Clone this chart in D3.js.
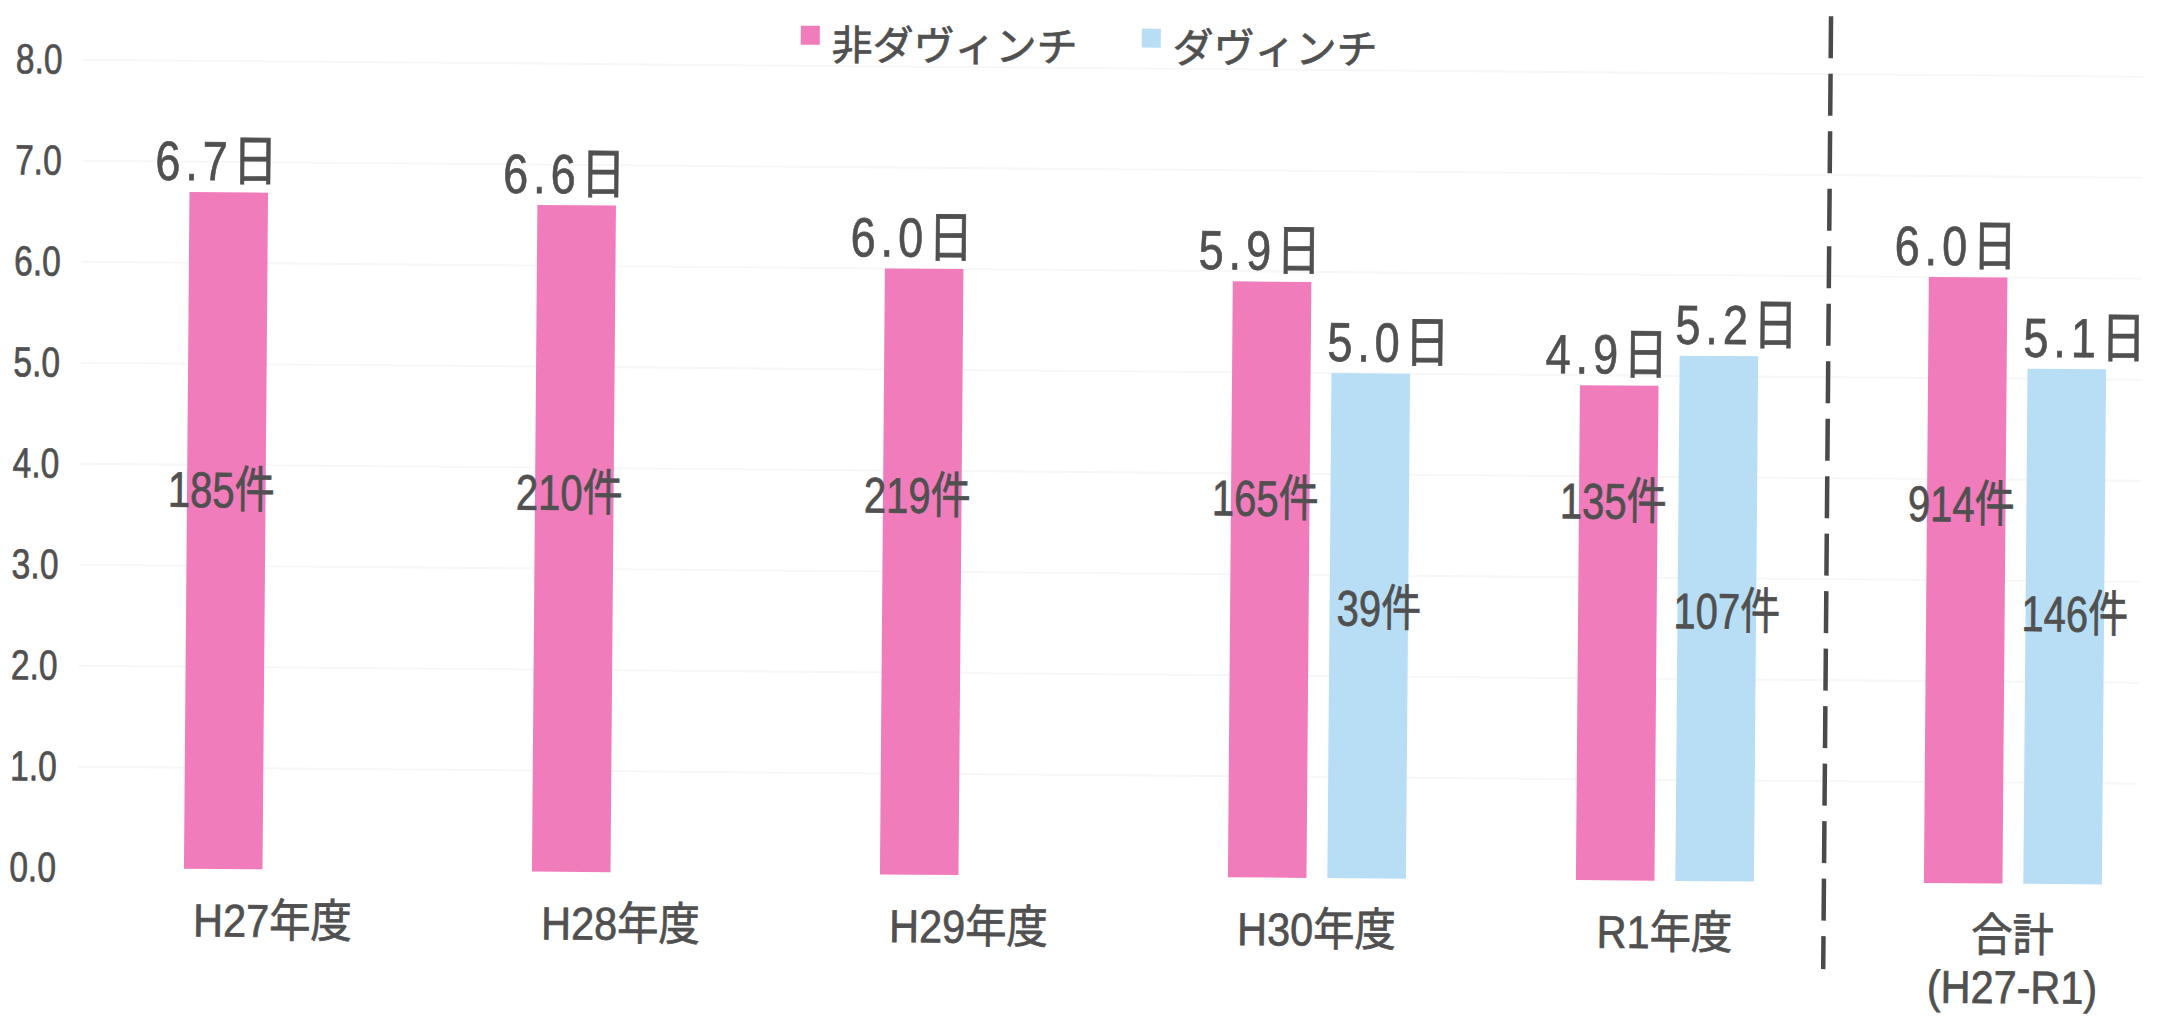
<!DOCTYPE html>
<html>
<head>
<meta charset="utf-8">
<script src="https://cdnjs.cloudflare.com/ajax/libs/d3/7.8.5/d3.min.js"></script>
<style>
  html, body { margin: 0; padding: 0; background: #fff; }
  svg { display: block; }
  text {
    fill: #505050;
    stroke: #505050;
    stroke-width: 0.7px;
    font-family: "Liberation Sans", Arial, "Noto Sans CJK JP", sans-serif;
  }
  .legend text { font-family: "Noto Sans CJK JP", sans-serif; }
</style>
</head>
<body>
<svg id="chart" width="2157" height="1017"></svg>
<script>
// data
const categories = ['H27年度', 'H28年度', 'H29年度', 'H30年度', 'R1年度', '合計\n(H27-R1)'];
const seriesNames = ['非ダヴィンチ', 'ダヴィンチ'];
const nonDavinciDays = [6.7, 6.6, 6.0, 5.9, 4.9, 6.0];
const davinciDays = [null, null, null, 5.0, 5.2, 5.1];
const nonDavinciCases = [185, 210, 219, 165, 135, 914];
const davinciCases = [null, null, null, 39, 107, 146];
const yTicks = [0, 1, 2, 3, 4, 5, 6, 7, 8];

const colors = {'非ダヴィンチ': '#f17cbc', 'ダヴィンチ': '#b8def5'};
// where the "件" labels sit, in axis units, and how far the "日" labels are nudged
const caseLabelLevel = {'非ダヴィンチ': 3.76, 'ダヴィンチ': 2.68};
const dayLabelShift = {'非ダヴィンチ': -10, 'ダヴィンチ': 20};

const series = [
    {name: seriesNames[0], days: nonDavinciDays, cases: nonDavinciCases},
    {name: seriesNames[1], days: davinciDays, cases: davinciCases}
];

const svg = d3.select('#chart');
// the original is a scan that is turned a little clockwise
const g = svg.append('g').attr('transform', 'rotate(0.47, 1078, 500)');

const x = d3.scalePoint().domain(categories).range([276, 2016]);
const sub = d3.scaleBand().domain(seriesNames).range([-89, 89]).paddingInner(0.21);
const y = d3.scaleLinear().domain([0, 8]).range([876, 68]);

// the source font is narrow, so texts get squeezed sideways
const place = (px, py, sx) => `translate(${px},${py}) scale(${sx},1)`;

// faint gridlines
g.append('g')
    .selectAll('line')
    .data(yTicks.slice(1))
    .join('line')
    .attr('x1', 80).attr('x2', 2140)
    .attr('y1', d => y(d)).attr('y2', d => y(d))
    .attr('stroke', '#f7f7f7')
    .attr('stroke-width', 2);

// y axis (labels only)
const yAxis = g.append('g')
    .attr('transform', 'translate(59,0)')
    .call(d3.axisLeft(y).tickValues(yTicks).tickFormat(d3.format('.1f')).tickSize(0).tickPadding(0));
yAxis.select('.domain').remove();
yAxis.selectAll('text')
    .attr('fill', '#505050')
    .attr('transform', 'scale(0.8,1)')
    .style('font-size', '42px')
    .style('font-family', null);

// bars
const bars = [];
series.forEach(s => {
    s.days.forEach((v, i) => {
        if (v != null) bars.push({cat: categories[i], name: s.name, value: v, cases: s.cases[i]});
    });
});
const barMid = d => x(d.cat) + sub(d.name) + sub.bandwidth() / 2;

g.append('g')
    .selectAll('rect')
    .data(bars)
    .join('rect')
    .attr('x', d => x(d.cat) + sub(d.name))
    .attr('width', sub.bandwidth())
    .attr('y', d => y(d.value))
    .attr('height', d => y(0) - y(d.value))
    .attr('fill', d => colors[d.name]);

// day labels over the bars
g.append('g')
    .selectAll('text')
    .data(bars)
    .join('text')
    .attr('transform', d => place(barMid(d) + dayLabelShift[d.name], y(d.value) - 12, 0.82))
    .attr('text-anchor', 'middle')
    .style('font-size', '55px')
    .style('letter-spacing', '6px')
    .text(d => `${d.value.toFixed(1)}日`);

// case counts inside the bars
g.append('g')
    .selectAll('text')
    .data(bars)
    .join('text')
    .attr('transform', d => place(barMid(d) + dayLabelShift[d.name] / 2, y(caseLabelLevel[d.name]), 0.8))
    .attr('dy', '0.36em')
    .attr('text-anchor', 'middle')
    .style('font-size', '50px')
    .text(d => `${d.cases}件`);

// category labels
const catLabels = g.append('g')
    .selectAll('text')
    .data(categories)
    .join('text')
    .attr('transform', d => place(x(d), 927, 0.9))
    .attr('text-anchor', 'middle')
    .style('font-size', '46px');
catLabels.each(function (d) {
    d3.select(this)
        .selectAll('tspan')
        .data(d.split('\n'))
        .join('tspan')
        .attr('x', 0)
        .attr('dy', (t, i) => i === 0 ? '0.36em' : '1.13em')
        .text(t => t);
});

// dashed separator before the total
const sepX = x(categories[4]) + x.step() * 0.457;
g.append('line')
    .attr('x1', sepX).attr('x2', sepX)
    .attr('y1', 10).attr('y2', 963)
    .attr('stroke', '#4a4a4a')
    .attr('stroke-width', 4.5)
    .attr('stroke-dasharray', '42 15.5');

// legend
const legend = g.append('g').attr('class', 'legend').attr('transform', 'translate(797,28)');
let offset = 0;
seriesNames.forEach(name => {
    const item = legend.append('g').attr('transform', `translate(${offset},0)`);
    item.append('rect')
        .attr('width', 19).attr('height', 19)
        .attr('fill', colors[name]);
    const t = item.append('text')
        .attr('x', 31)
        .attr('y', 19)
        .attr('dy', '0.36em')
        .style('font-size', '41px')
        .text(name);
    offset += 31 + t.node().getComputedTextLength() + 64;
});
</script>
</body>
</html>
